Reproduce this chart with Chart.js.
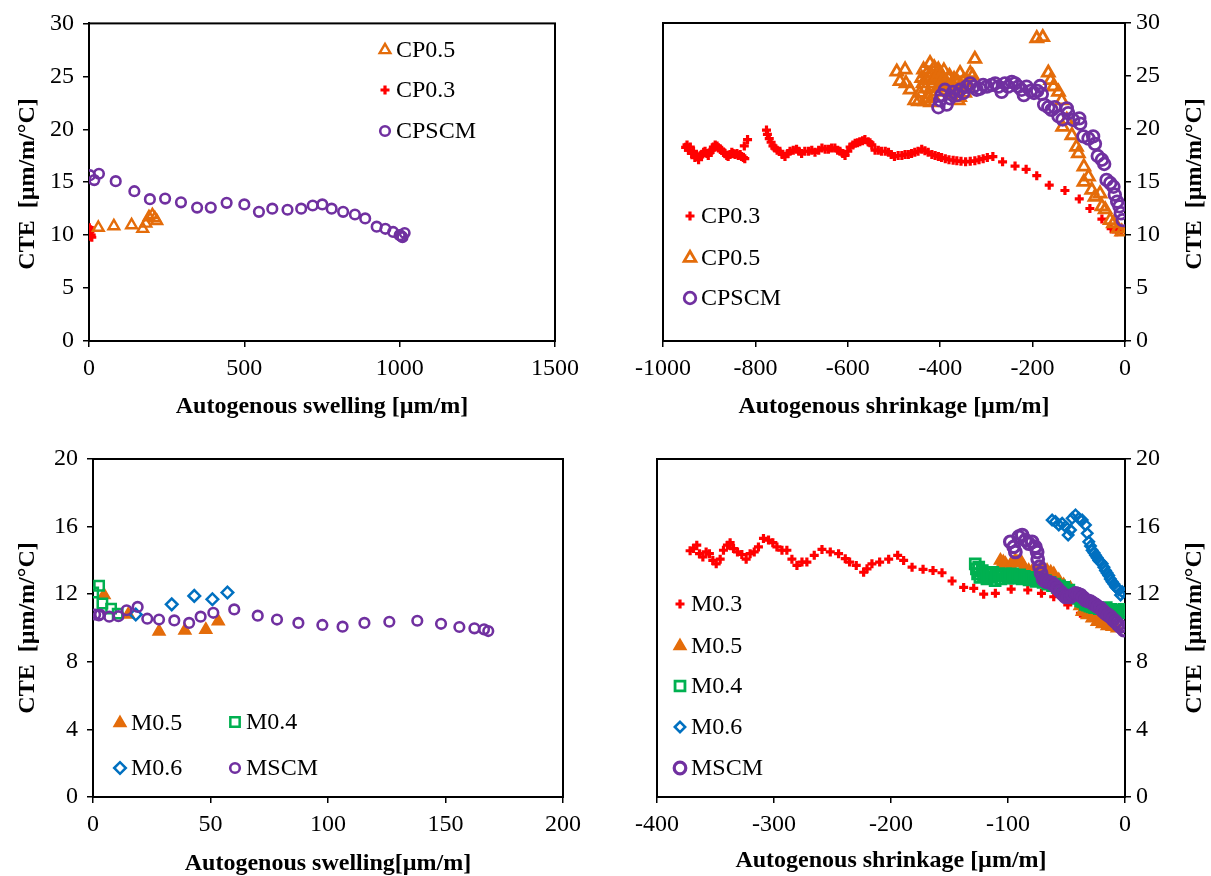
<!DOCTYPE html>
<html>
<head>
<meta charset="utf-8">
<script src="https://cdn.jsdelivr.net/npm/chart.js"></script>
<style>
  html,body{margin:0;padding:0;background:#fff;}
  #wrap{position:relative;width:1211px;height:876px;background:#fff;overflow:hidden;}
  canvas{position:absolute;}
</style>
</head>
<body>
<div id="wrap">
  <canvas id="c1" width="610" height="430" style="left:0;top:0"></canvas>
  <canvas id="c2" width="601" height="430" style="left:610px;top:0"></canvas>
  <canvas id="c3" width="610" height="446" style="left:0;top:430px"></canvas>
  <canvas id="c4" width="601" height="446" style="left:610px;top:430px"></canvas>
</div>
<script>
// ---------------- DATA ----------------
// Top-left: CTE vs autogenous swelling (cement paste)
const tlCP05 = [[30,10.7],[80,10.85],[137,10.95],[173,10.6],[183,11.1],[193,11.7],[204,11.9],[212,11.6],[218,11.35]];
const tlCP03 = [[1,10.7],[3,10.3],[5,10.5],[7,10.0],[9,9.8],[4,9.9]];
const tlCPSCM = [[3,15.66],[17,15.2],[32,15.8],[86,15.1],[146,14.15],[196,13.4],[245,13.45],[296,13.1],[348,12.6],[392,12.6],[443,13.05],[500,12.9],[547,12.2],[590,12.5],[639,12.4],[683,12.5],[720,12.8],[751,12.9],[781,12.5],[818,12.2],[856,11.95],[889,11.58],[926,10.8],[954,10.6],[979,10.3],[1000,10.0],[1006,9.9],[1009,9.8],[1016,10.2]];

// Top-right: CTE vs autogenous shrinkage (cement paste)
const trCP03 = [[-951,18.27],[-948,18.5],[-945,18.0],[-941,18.3],[-938,17.7],[-934,17.9],[-931,17.3],[-927,17.5],[-923,17.1],[-920,17.4],[-916,17.6],[-912,17.8],[-909,17.9],[-905,17.7],[-902,17.5],[-898,17.8],[-894,18.0],[-891,18.3],[-887,18.5],[-883,18.4],[-880,18.2],[-876,18.1],[-873,18.0],[-869,17.8],[-866,17.7],[-862,17.5],[-859,17.4],[-855,17.6],[-851,17.8],[-848,17.7],[-844,17.6],[-840,17.7],[-837,17.5],[-833,17.6],[-830,17.4],[-826,17.3],[-823,17.2],[-824,18.4],[-817,19.0],
  [-776,19.9],[-774,19.5],[-770,19.1],[-766,18.75],[-762,18.4],[-758,18.2],[-753,18.0],[-747,17.9],[-742,17.6],[-736,17.4],[-730,17.7],[-725,17.9],[-718,18.0],[-711,18.1],[-706,17.9],[-700,17.7],[-693,17.9],[-685,17.9],[-678,18.0],[-671,17.8],[-663,18.0],[-656,18.2],[-649,18.1],[-642,18.1],[-635,18.2],[-628,18.2],[-622,18.0],[-617,17.9],[-611,17.7],[-606,17.5],[-600,17.9],[-595,18.3],[-589,18.5],[-584,18.65],[-579,18.7],[-574,18.8],[-568,18.9],[-563,19.0],[-556,18.8],[-552,18.7],[-548,18.5],[-541,18.0],[-534,18.0],[-527,17.9],[-519,17.9],[-512,17.8],[-506,17.6],[-499,17.4],[-491,17.5],[-483,17.5],[-476,17.6],[-469,17.6],[-462,17.7],[-455,17.8],[-448,17.9],[-440,18.1],[-433,17.95],[-426,17.8],[-418,17.6],[-411,17.5],[-404,17.4],[-397,17.3],[-389,17.2],[-381,17.1],[-372,17.05],[-364,17.0],[-355,16.95],[-345,16.9],[-335,16.95],[-325,17.0],[-316,17.1],[-307,17.2],[-298,17.3],[-286,17.4],[-265,16.9],[-238,16.5],[-214,16.2],[-191,15.6],[-164,14.7],[-130,14.2],[-99,13.4],[-76,12.5],[-50,11.5],[-30,10.6],[-18,10.3],[-8,10.5]];
const trCP05 = [[-494,25.4],[-476,25.6],[-487,24.5],[-474,24.3],[-465,23.7],[-455,22.7],[-444,23.4],[-437,24.3],[-429,25.25],[-422,26.2],[-418,24.0],[-415,23.05],[-411,24.95],[-404,25.6],[-397,25.1],[-390,24.5],[-382,24.8],[-375,24.0],[-368,23.5],[-357,25.25],[-361,22.7],[-350,24.5],[-335,25.25],[-325,26.6],
  [-440,24.8],[-436,25.6],[-432,23.8],[-428,24.6],[-425,22.9],[-420,25.2],[-416,24.3],[-413,25.8],[-410,23.5],[-407,24.9],[-402,25.3],[-399,23.9],[-395,24.6],[-392,25.5],[-388,23.6],[-385,24.3],[-380,25.0],[-377,23.2],[-373,24.1],[-370,24.7],[-366,23.6],[-362,24.4],[-358,23.0],[-354,24.0],[-347,23.4],[-342,24.4],[-338,23.8],[-330,25.0],[-447,22.6],[-433,22.6],[-421,22.5],
  [-191,28.55],[-178,28.65],[-166,25.3],[-161,24.6],[-155,24.0],[-144,23.5],[-137,22.7],[-135,20.2],[-126,20.85],[-115,19.4],[-105,18.3],[-101,17.7],[-89,16.45],[-89,15.0],[-79,15.5],[-72,14.25],[-65,13.6],[-54,13.9],[-50,12.7],[-43,12.4],[-32,11.4],[-25,11.1],[-15,10.6],[-7,10.3]];
const trCPSCM = [[-404,22.05],[-400,22.7],[-397,23.2],[-390,23.7],[-386,22.3],[-379,22.9],[-372,23.5],[-364,23.2],[-357,23.7],[-350,23.4],[-343,24.0],[-335,24.3],[-328,24.0],[-321,23.7],[-314,23.8],[-307,24.15],[-299,24.0],[-289,24.15],[-281,24.3],[-274,24.0],[-267,23.5],[-260,24.3],[-253,24.0],[-245,24.45],[-238,24.3],[-231,24.0],[-224,23.7],[-219,23.2],[-213,24.0],[-204,23.6],[-197,23.4],[-190,23.6],[-184,24.05],[-180,23.3],[-175,22.3],[-166,22.05],[-159,21.8],[-152,22.05],[-144,21.2],[-135,20.9],[-126,21.95],[-123,21.5],[-112,20.85],[-99,21.0],[-97,20.5],[-90,19.3],[-79,19.1],[-69,19.3],[-65,18.6],[-59,17.45],[-50,17.1],[-45,16.7],[-40,15.2],[-32,14.9],[-25,14.55],[-22,13.8],[-17,13.15],[-12,12.7],[-9,12.05],[-5,11.4]];

// Bottom-left: CTE vs autogenous swelling (mortar)
const blM05 = [[4.7,11.95],[15.0,10.8],[28.1,9.8],[39.1,9.85],[48.0,9.9],[53.3,10.4]];
const blM04 = [[0.1,12.1],[2.6,12.5],[4.0,11.45],[7.7,11.15],[10.5,10.85]];
const blM06 = [[18.2,10.8],[33.5,11.4],[43.1,11.9],[50.8,11.7],[57.2,12.1]];
const blMSCM = [[0.9,10.8],[2.5,10.75],[3.0,10.8],[6.9,10.67],[10.8,10.7],[14.3,11.05],[19.0,11.25],[23.1,10.55],[28.1,10.5],[34.6,10.45],[40.9,10.3],[45.8,10.67],[51.2,10.9],[60.1,11.1],[70.1,10.73],[78.3,10.5],[87.4,10.3],[97.6,10.18],[106.2,10.08],[115.5,10.3],[126.1,10.37],[138.0,10.43],[148.1,10.25],[155.9,10.06],[162.3,9.98],[166.4,9.92],[168.2,9.82]];

// Bottom-right: CTE vs autogenous shrinkage (mortar)
const brM03 = [[-371.7,14.57],[-368.8,14.7],[-366,14.9],[-363.7,14.4],[-360.8,14.2],[-358,14.5],[-355.2,14.4],[-352.3,14.0],[-349.4,13.8],[-346,14.07],[-343.2,14.6],[-339.8,14.9],[-337.5,15.05],[-334.6,14.7],[-331.2,14.5],[-327.5,14.35],[-323.8,14.07],[-320.4,14.4],[-316.9,14.5],[-313.3,14.8],[-309,15.3],[-304.7,15.2],[-301,15.05],[-297.5,14.8],[-293.2,14.6],[-289,14.6],[-284.7,14.07],[-280.4,13.7],[-276.1,13.9],[-271.9,13.9],[-265.6,14.3],[-259,14.65],[-251.9,14.5],[-244.8,14.4],[-239.1,14.1],[-235.4,13.9],[-229.7,13.7],[-223.4,13.3],[-220.5,13.5],[-216.3,13.8],[-209.7,13.9],[-202,14.07],[-194.3,14.3],[-189.2,14.0],[-182,13.6],[-172.6,13.47],[-164.1,13.4],[-156.4,13.27],[-147.8,12.78],[-137.9,12.4],[-129.3,12.35],[-120.8,12.0],[-110.8,12.05],[-97.3,12.3],[-83.1,12.25],[-71.4,12.05],[-60.9,11.85],[-48.9,11.36],[-38.1,10.87],[-26.7,10.5],[-3.8,10.87]];
const brM05 = [[-106.5,14.0],[-104,13.9],[-102.2,13.8],[-98,13.73],[-95.5,13.85],[-93.7,13.98],[-91.5,13.9],[-89.4,14.0],[-86.6,13.6],[-82.3,13.4],[-79.5,13.35],[-76.6,13.3],[-72.3,13.5],[-69.5,13.45],[-66.6,13.4],[-63.5,13.3],[-60.9,13.2],[-56.6,12.84],[-52.4,12.54],[-46.6,12.35],[-43.5,12.1],[-40.9,11.85],[-38.5,11.3],[-36.6,10.96],[-32.3,10.77],[-28.1,10.57],[-23.8,10.37],[-19.5,10.24],[-15.2,10.12],[-10.9,10.08],[-6.7,9.98],[-30.5,11.0],[-26.0,10.8],[-21.0,10.5]];
const brM04 = [[-128,13.8],[-127,13.5],[-126,13.2],[-125,13.6],[-124,13.0],[-122,13.4],[-121,13.1],[-119,13.3],[-118,12.9],[-116,13.2],[-114,13.0],[-113,13.3],[-111,12.8],[-110,13.1],[-108,13.2],[-106,12.9],[-104,13.1],[-102,13.2],[-100,12.95],[-98,13.1],[-96,13.2],[-94,12.95],[-92,13.1],[-90,13.15],[-88,12.9],[-86,13.05],[-84,13.0],[-82,12.85],[-80,13.0],[-78,12.9],[-76,12.75],[-74,12.9],[-72,12.8],[-70,12.7],[-68,12.8],[-66,12.6],[-64,12.7],[-62,12.5],[-60,12.6],[-58,12.4],[-56,12.5],[-54,12.3],[-52,12.4],[-50,12.2],[-48,12.25],[-46,12.0],[-44,11.95],[-42,11.8],[-40,11.75],[-38,11.6],[-36,11.55],[-34,11.4],[-32,11.35],[-30,11.3],[-28,11.25],[-26,11.2],[-24,11.2],[-22,11.15],[-20,11.15],[-18,11.1],[-16,11.2],[-14,11.05],[-12,11.1],[-10,11.0],[-8,11.05],[-6,11.0],[-4,11.05],[-2,10.9],[-1,11.1]];
const brM06 = [[-62.3,16.39],[-59.5,16.3],[-56.6,16.1],[-53.7,16.2],[-50.9,16.0],[-48.6,15.5],[-46.6,15.8],[-45.2,16.49],[-42.3,16.69],[-39.5,16.49],[-36.6,16.39],[-33.8,16.1],[-32.3,15.6],[-31,15.1],[-29.5,14.85],[-28.1,14.6],[-26.5,14.45],[-25.2,14.3],[-23.8,14.15],[-22.4,14.0],[-21,13.9],[-19.5,13.8],[-18,13.6],[-16.7,13.4],[-15.3,13.25],[-13.9,13.1],[-12.5,12.9],[-11,12.74],[-9.5,12.6],[-8.1,12.44],[-6.7,12.35],[-5.3,12.25],[-3.8,11.95],[-2.4,12.15]];
const brMSCM = [[-98,15.1],[-95.1,14.8],[-93.7,14.5],[-90.8,15.4],[-87.9,15.5],[-85.1,15.2],[-82.3,15.0],[-79.4,15.1],[-76.6,14.8],[-75.1,14.5],[-74.6,14.07],[-73.1,13.63],[-71.7,13.24],[-70,12.88],[-68.3,12.8],[-66.6,12.74],[-64.5,12.7],[-62.3,12.64],[-60,12.5],[-58,12.35],[-55.2,12.15],[-53,12.0],[-50.9,11.85],[-48.7,11.85],[-46.6,11.85],[-44.5,11.95],[-42.3,12.05],[-40.2,12.0],[-38.1,11.95],[-35.9,11.8],[-33.8,11.66],[-31.6,11.6],[-29.5,11.56],[-27.3,11.45],[-25.2,11.36],[-23.1,11.25],[-21,11.17],[-18.8,11.0],[-16.7,10.87],[-14.5,10.77],[-12.4,10.67],[-10.2,10.5],[-8.1,10.37],[-5.9,10.2],[-3.8,10.08],[-1,9.88]];

// tick settings
const tlXTicks = {min:0, max:1500, step:500};
const tlYTicks = {min:0, max:30, step:5};
const trXTicks = {min:-1000, max:0, step:200};
const blXTicks = {min:0, max:200, step:50};
const blYTicks = {min:0, max:20, step:4};
const brXTicks = {min:-400, max:0, step:100};

// ---------------- STYLE ----------------
const SERIF = "'Liberation Serif','Times New Roman',serif";
const RED = '#FF0000', ORANGE = '#E46C0A', PURPLE = '#7030A0', GREEN = '#00B050', BLUE = '#0070C0';
const NONE = 'rgba(0,0,0,0)';

function pts(arr){ return arr.map(p => ({x:p[0], y:p[1]})); }

function ds(label, data, style, color, filled, radius, bw, order){
  return {label, data: pts(data), pointStyle: style, borderColor: color,
    backgroundColor: filled ? color : NONE, pointRadius: radius, pointHoverRadius: radius,
    borderWidth: bw, pointBorderWidth: bw, showLine: false, order};
}

function drawMarker(ctx, style, x, y, r){
  ctx.beginPath();
  if (style === 'circle') { ctx.arc(x, y, r, 0, Math.PI*2); }
  else if (style === 'triangle') {
    const a = 2*Math.PI/3;
    ctx.moveTo(x, y - r);
    ctx.lineTo(x + Math.sin(a)*r, y - Math.cos(a)*r);
    ctx.lineTo(x - Math.sin(a)*r, y - Math.cos(a)*r);
    ctx.closePath();
  }
  else if (style === 'rect') { const s = Math.SQRT1_2*r; ctx.rect(x-s, y-s, 2*s, 2*s); }
  else if (style === 'rectRot') { ctx.moveTo(x-r,y); ctx.lineTo(x,y-r); ctx.lineTo(x+r,y); ctx.lineTo(x,y+r); ctx.closePath(); }
  else if (style === 'cross') { ctx.moveTo(x-r,y); ctx.lineTo(x+r,y); ctx.moveTo(x,y-r); ctx.lineTo(x,y+r); }
}

function decorPlugin(ox, oy, texts, legend){
  return {
    id: 'decor',
    beforeDatasetsDraw(chart){
      const {ctx, chartArea:a} = chart;
      ctx.save();
      ctx.strokeStyle = '#000'; ctx.lineWidth = 2;
      ctx.strokeRect(a.left, a.top, a.right - a.left, a.bottom - a.top);
      ctx.restore();
    },
    afterDraw(chart){
      const ctx = chart.ctx;
      ctx.save();
      ctx.fillStyle = '#000';
      ctx.textBaseline = 'middle';
      for (const t of texts) {
        ctx.save();
        ctx.font = 'bold 24px ' + SERIF;
        ctx.textAlign = 'center';
        ctx.translate(t.x - ox, t.y - oy);
        if (t.rot) ctx.rotate(-Math.PI/2);
        ctx.fillText(t.text, 0, 0);
        ctx.restore();
      }
      for (const it of legend) {
        const x = it.x - ox, y = it.y - oy;
        ctx.save();
        ctx.lineWidth = it.bw; ctx.strokeStyle = it.color;
        ctx.fillStyle = it.filled ? it.color : NONE;
        drawMarker(ctx, it.style, x, y, it.r);
        if (it.filled) ctx.fill();
        ctx.stroke();
        ctx.restore();
        ctx.save();
        ctx.font = '24px ' + SERIF;
        ctx.fillStyle = '#000';
        ctx.textAlign = 'left';
        ctx.fillText(it.label, it.tx - ox, y + 1);
        ctx.restore();
      }
      ctx.restore();
    }
  };
}

function scales(xt, yt, yPos, xH, yW){
  const tickFont = {family: SERIF, size: 24};
  const grid = {drawOnChartArea:false, drawTicks:true, tickLength:6, color:'#000', lineWidth:1.5};
  const border = {display:true, color:'#000', width:2};
  return {
    x: {type:'linear', position:'bottom', min:xt.min, max:xt.max,
        ticks:{stepSize:xt.step, color:'#000', font:tickFont, padding:7, maxRotation:0, autoSkip:false, callback:v => String(v)},
        grid, border, afterFit: s => { s.height = xH; }},
    y: {type:'linear', position:yPos, min:yt.min, max:yt.max,
        ticks:{stepSize:yt.step, color:'#000', font:tickFont, padding: yPos === 'left' ? 9 : 5, autoSkip:false, callback:v => String(v)},
        grid, border, afterFit: s => { s.width = yW; }}
  };
}

function make(id, datasets, sc, padding, plugin){
  return new Chart(document.getElementById(id), {
    type: 'scatter',
    data: {datasets},
    options: {
      responsive:false, animation:false, devicePixelRatio:1,
      layout:{padding},
      plugins:{legend:{display:false}, tooltip:{enabled:false}},
      scales: sc
    },
    plugins:[plugin]
  });
}

// Panel 1
make('c1', [
  ds('CPSCM', tlCPSCM, 'circle', PURPLE, false, 4.8, 2.6, 0),
  ds('CP0.5', tlCP05, 'triangle', ORANGE, false, 6.2, 2.4, 1),
  ds('CP0.3', tlCP03, 'cross', RED, false, 4.5, 3.2, 2)
], scales(tlXTicks, tlYTicks, 'left', 430-341, 89), {left:0, top:23, right:55, bottom:0},
 decorPlugin(0, 0,
  [{text:'Autogenous swelling [µm/m]', x:322, y:407},
   {text:'CTE  [µm/m/°C]', x:28, y:184, rot:true}],
  [{label:'CP0.5', style:'triangle', color:ORANGE, filled:false, r:6.2, bw:2.4, x:385, y:50, tx:396},
   {label:'CP0.3', style:'cross', color:RED, filled:false, r:4.5, bw:3.2, x:385, y:90, tx:396},
   {label:'CPSCM', style:'circle', color:PURPLE, filled:false, r:4.8, bw:2.6, x:385, y:131, tx:396}]));

// Panel 2
make('c2', [
  ds('CPSCM', trCPSCM, 'circle', PURPLE, false, 5.8, 2.8, 0),
  ds('CP0.5', trCP05, 'triangle', ORANGE, false, 6.8, 2.8, 1),
  ds('CP0.3', trCP03, 'cross', RED, false, 4.5, 3.2, 2)
], scales(trXTicks, tlYTicks, 'right', 430-341, 86), {left:53, top:23, right:0, bottom:0},
 decorPlugin(610, 0,
  [{text:'Autogenous shrinkage [µm/m]', x:894, y:407},
   {text:'CTE  [µm/m/°C]', x:1195, y:184, rot:true}],
  [{label:'CP0.3', style:'cross', color:RED, filled:false, r:4.5, bw:3.2, x:690, y:216, tx:701},
   {label:'CP0.5', style:'triangle', color:ORANGE, filled:false, r:6.8, bw:2.8, x:690, y:258, tx:701},
   {label:'CPSCM', style:'circle', color:PURPLE, filled:false, r:5.8, bw:2.8, x:690, y:298, tx:701}]));

// Panel 3
make('c3', [
  ds('MSCM', blMSCM, 'circle', PURPLE, false, 4.8, 2.6, 0),
  ds('M0.6', blM06, 'rectRot', BLUE, false, 5.8, 2.5, 1),
  ds('M0.4', blM04, 'rect', GREEN, false, 6.6, 2.5, 2),
  ds('M0.5', blM05, 'triangle', ORANGE, true, 7, 1.5, 3)
], scales(blXTicks, blYTicks, 'left', 446-367, 93), {left:0, top:29, right:47, bottom:0},
 decorPlugin(0, 430,
  [{text:'Autogenous swelling[µm/m]', x:328, y:864},
   {text:'CTE  [µm/m/°C]', x:28, y:628, rot:true}],
  [{label:'M0.5', style:'triangle', color:ORANGE, filled:true, r:7, bw:1.5, x:120, y:723, tx:131},
   {label:'M0.4', style:'rect', color:GREEN, filled:false, r:6.6, bw:2.5, x:235, y:722, tx:246},
   {label:'M0.6', style:'rectRot', color:BLUE, filled:false, r:5.8, bw:2.5, x:120, y:768, tx:131},
   {label:'MSCM', style:'circle', color:PURPLE, filled:false, r:4.8, bw:2.6, x:235, y:768, tx:246}]));

// Panel 4
make('c4', [
  ds('MSCM', brMSCM, 'circle', PURPLE, false, 5.8, 3.2, 0),
  ds('M0.6', brM06, 'rectRot', BLUE, false, 5.2, 2.5, 1),
  ds('M0.4', brM04, 'rect', GREEN, false, 7, 2.8, 2),
  ds('M0.5', brM05, 'triangle', ORANGE, true, 7, 1.5, 3),
  ds('M0.3', brM03, 'cross', RED, false, 4.5, 3.2, 4)
], scales(brXTicks, blYTicks, 'right', 446-367, 86), {left:47, top:29, right:0, bottom:0},
 decorPlugin(610, 430,
  [{text:'Autogenous shrinkage [µm/m]', x:891, y:861},
   {text:'CTE  [µm/m/°C]', x:1195, y:628, rot:true}],
  [{label:'M0.3', style:'cross', color:RED, filled:false, r:4.5, bw:3.2, x:680, y:604, tx:691},
   {label:'M0.5', style:'triangle', color:ORANGE, filled:true, r:7, bw:1.5, x:680, y:646, tx:691},
   {label:'M0.4', style:'rect', color:GREEN, filled:false, r:7, bw:2.8, x:680, y:686, tx:691},
   {label:'M0.6', style:'rectRot', color:BLUE, filled:false, r:5.2, bw:2.5, x:680, y:727, tx:691},
   {label:'MSCM', style:'circle', color:PURPLE, filled:false, r:5.8, bw:3.2, x:680, y:768, tx:691}]));
</script>
</body>
</html>
